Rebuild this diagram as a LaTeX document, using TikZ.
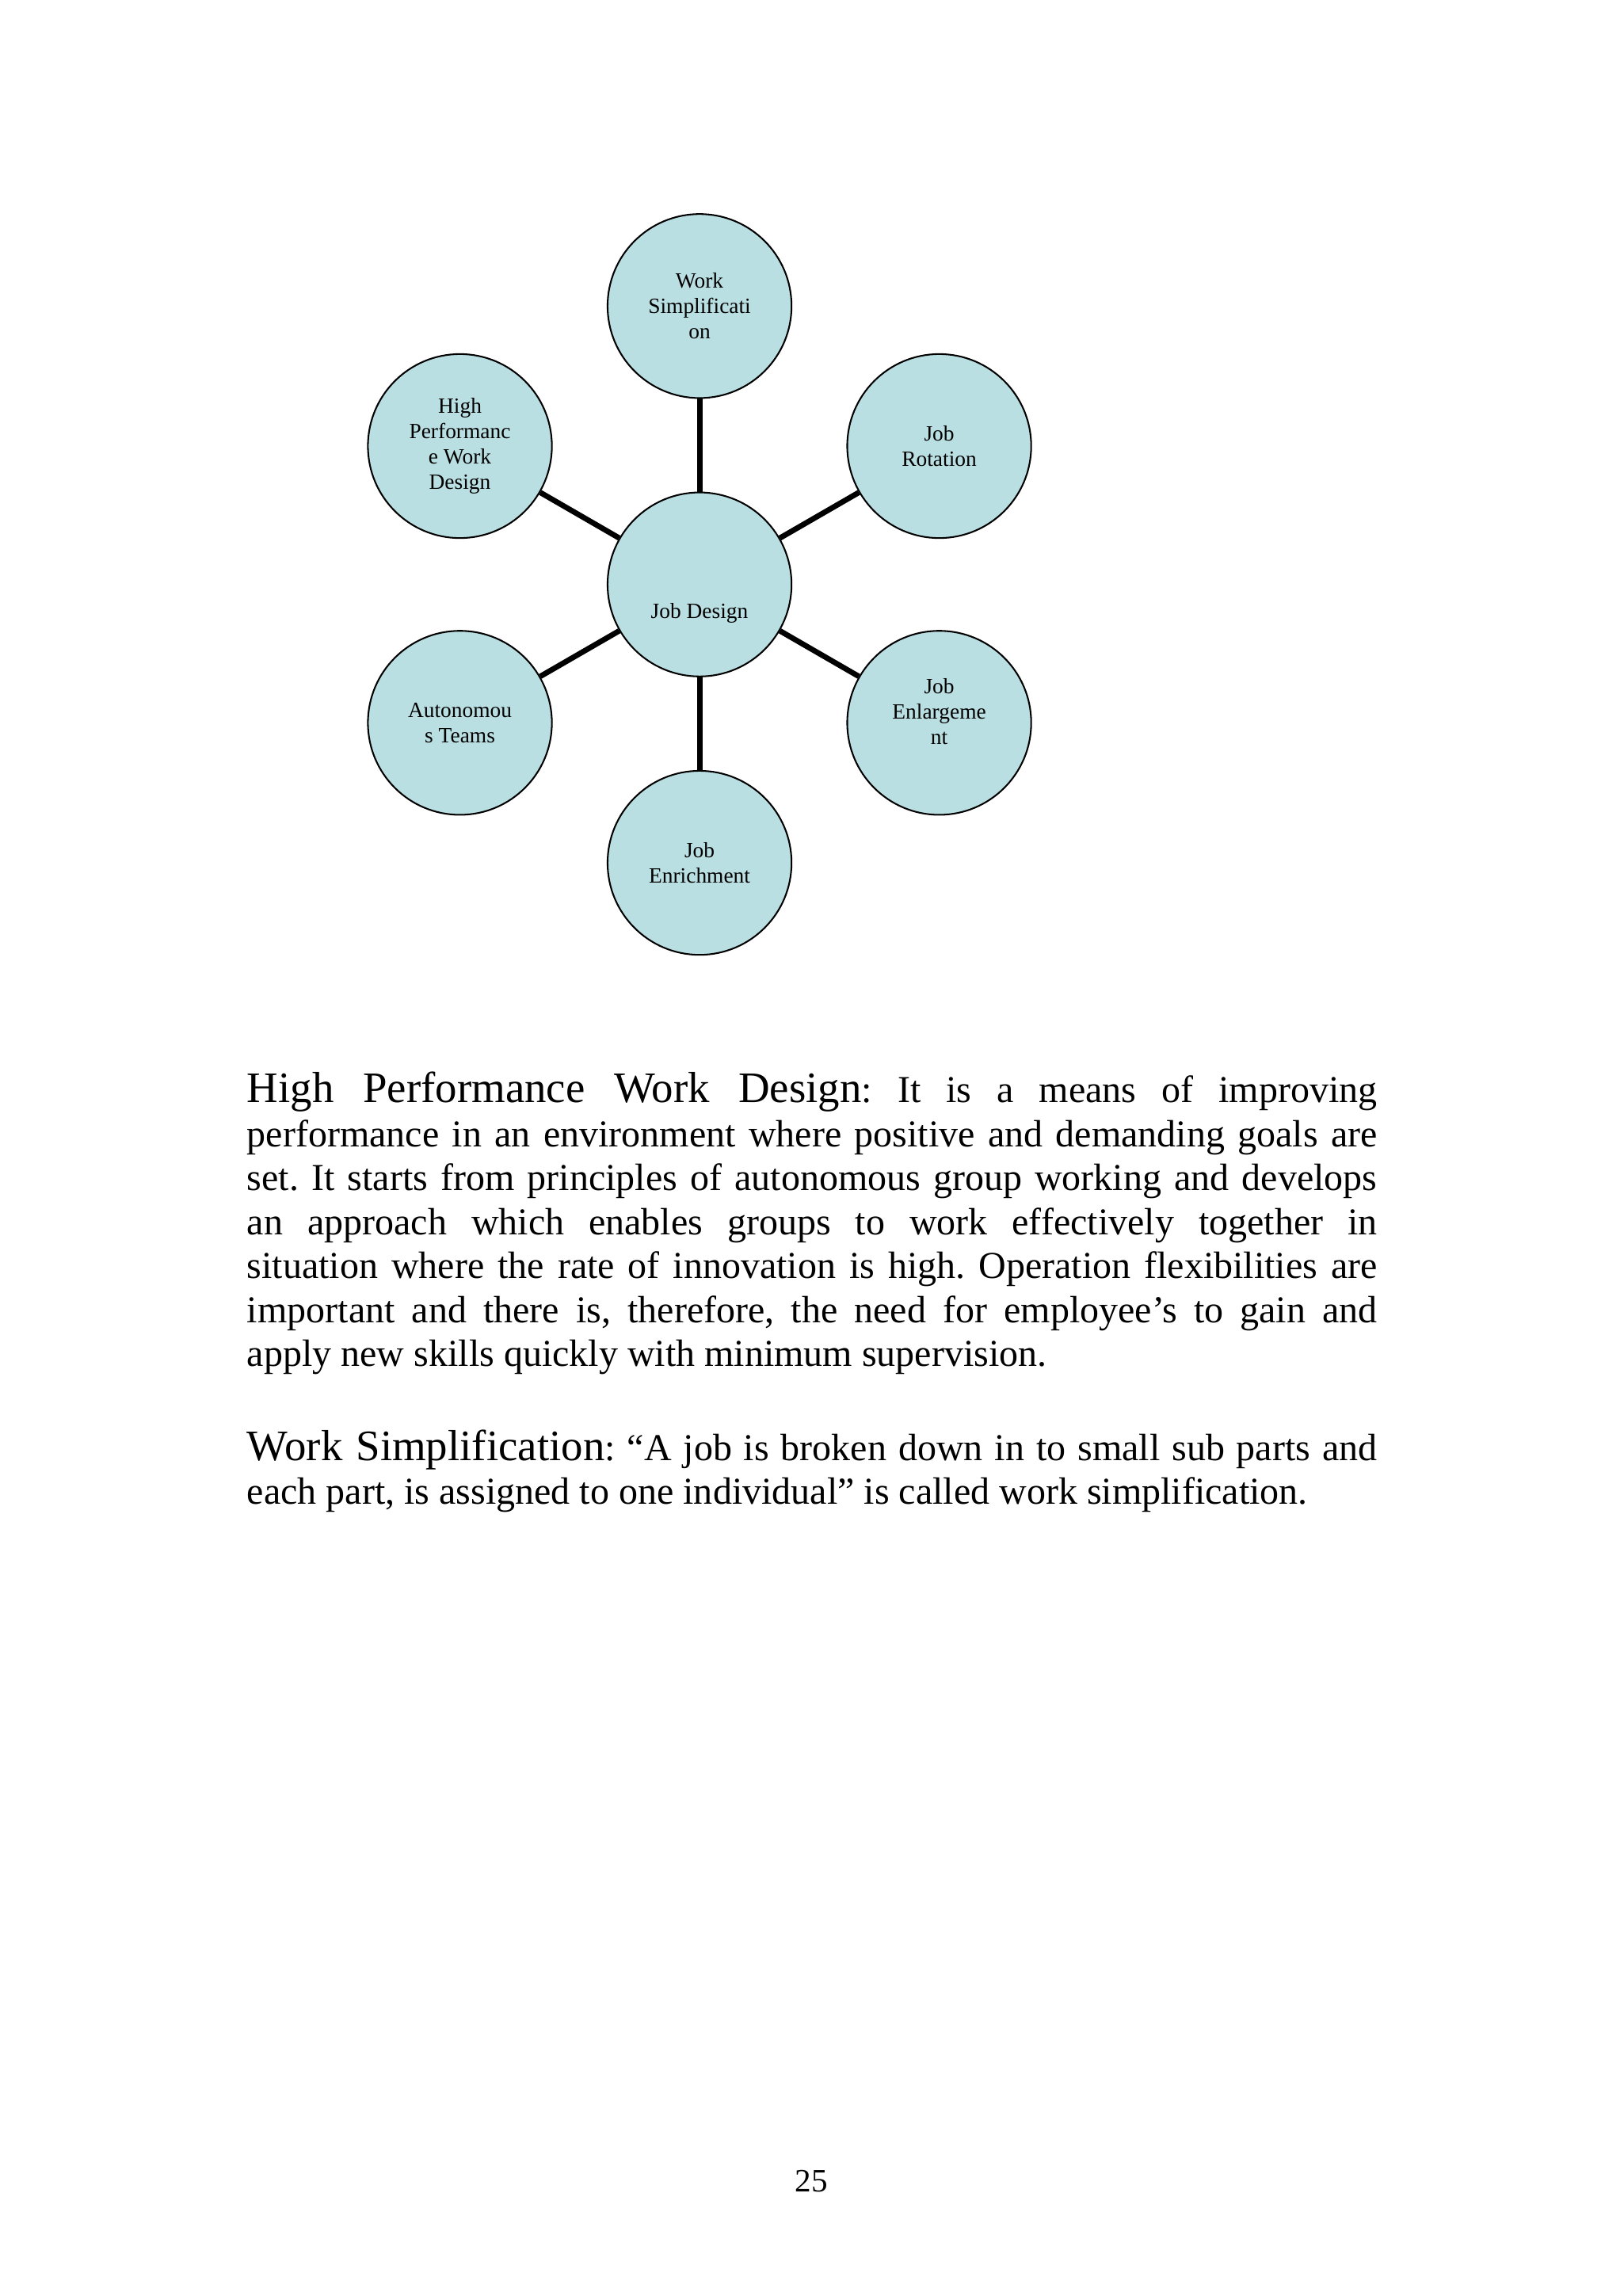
\documentclass[tikz,border=0pt]{standalone}
\usepackage{fontspec}
\setmainfont{Liberation Serif}
\usepackage{tikz}
\usepackage{xcolor}
\usetikzlibrary{positioning}
\definecolor{bubblefill}{RGB}{186,223,226}
\newcommand{\headfont}{\fontsize{16}{16.2}\selectfont}
\frenchspacing
\tikzset{
  %topic circle style
  bubble/.style={
    circle
    , draw=black
    , fill=bubblefill
    , line width=0.6pt
    %, minimum size=24mm
    , minimum size=23.8mm
    , inner sep=0pt
    , align=center
    , font=\fontsize{8}{9.3}\selectfont
  },
}

\begin{document}
\begin{tikzpicture}
  \tikzstyle{spoke}=[line width=2pt]
  \tikzstyle{para}=[anchor=base west
                    , inner sep=0pt
                    , text width=146.2mm
                    , align=justify
                    , font=\fontsize{14}{16.2}\selectfont]
  \fill [white] (0,0) rectangle (210mm,-297mm);
  \useasboundingbox (0,0) rectangle (210mm,-297mm);

  \node [bubble] (jd) at (90.5mm,-75.6mm) {\raisebox{-4.4mm}[0pt][0pt]{Job Design}};
  \node [bubble,above=12mm of jd] (ws) {Work\\Simplificati\\on};
  \node [bubble,below=12mm of jd] (jenr) {Job\\Enrichment};
  \node [bubble] (jrot) at ([shift={(30:35.8mm)}]jd) {Job\\Rotation};
  \node [bubble] (jenl) at ([shift={(-30:35.8mm)}]jd) {Job\\Enlargeme\\nt\\[-0.3mm]};
  \node [bubble] (at) at ([shift={(210:35.8mm)}]jd) {Autonomou\\s Teams};
  \node [bubble] (hpwd) at ([shift={(150:35.8mm)}]jd) {High\\Performanc\\e Work\\Design};

  \draw [spoke] (jd) -- (ws);
  \draw [spoke] (jd) -- (jrot);
  \draw [spoke] (jd) -- (jenl);
  \draw [spoke] (jd) -- (jenr);
  \draw [spoke] (jd) -- (at);
  \draw [spoke] (jd) -- (hpwd);

  \node [para] (hpwd-text) at (31.9mm,-142.6mm) {{\headfont High Performance Work Design}: It is a means of improving\linebreak
    performance in an environment where positive and demanding goals are\linebreak
    set. It starts from principles of autonomous group working and develops\linebreak
    an approach which enables groups to work effectively together in\linebreak
    situation where the rate of innovation is high. Operation flexibilities are\linebreak
    important and there is, therefore, the need for employee’s to gain and\linebreak
    apply new skills quickly with minimum supervision.};

  \node [para] (ws-text) at (31.9mm,-188.9mm) {{\headfont Work Simplification}: “A job is broken down in to small sub parts and\linebreak
    each part, is assigned to one individual” is called work simplification.};

  \node [anchor=base,font=\fontsize{12}{14}\selectfont] (pagenum) at (105mm,-283.5mm) {25};

\end{tikzpicture}
\end{document}
